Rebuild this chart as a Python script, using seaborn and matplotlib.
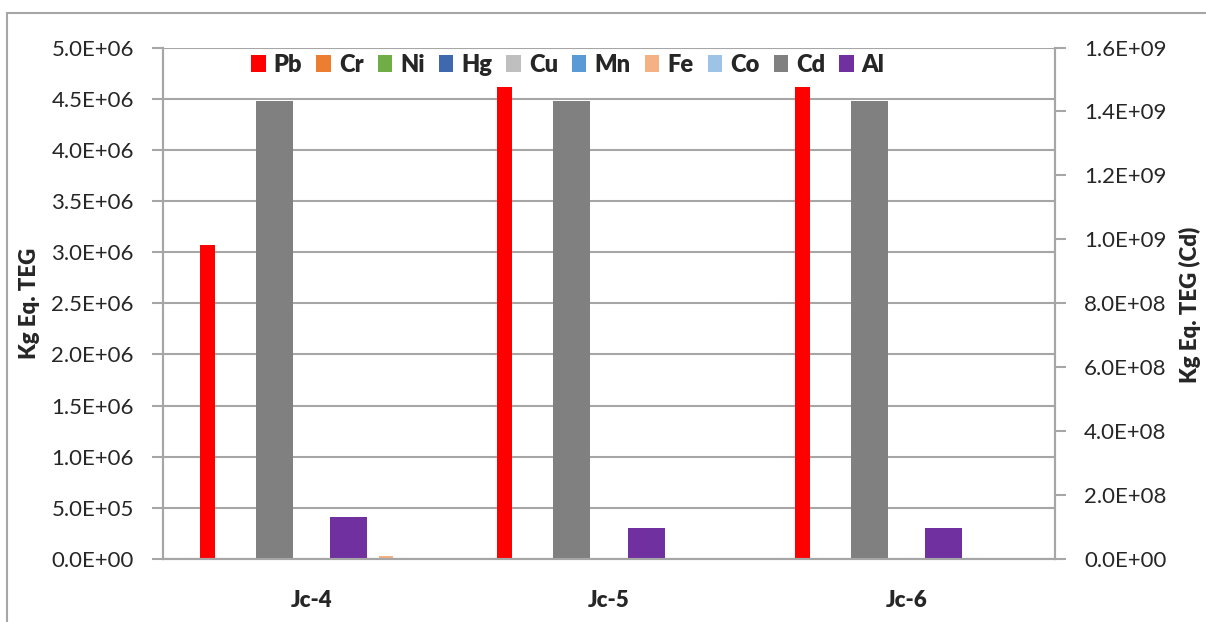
import matplotlib
matplotlib.use("agg")
import matplotlib.pyplot as plt
from matplotlib.patches import Patch
from matplotlib.lines import Line2D
from matplotlib.ticker import FuncFormatter, MultipleLocator
import seaborn as sns
import pandas as pd

# data
samples = ["Jc-4", "Jc-5", "Jc-6"]
primary_metals = ["Pb", "Cr", "Ni", "Hg", "Cu", "Mn", "Fe", "Co"]
secondary_metals = ["Cd", "Al"]

pb = [3.07e6, 4.61e6, 4.61e6]
cr = [2.0e3, 1.0e3, 1.0e3]
ni = [1.0e3, 5.0e2, 5.0e2]
hg = [5.0e2, 2.0e2, 2.0e2]
cu = [1.0e3, 5.0e2, 5.0e2]
mn = [3.0e3, 1.0e3, 1.0e3]
fe = [2.6e4, 2.0e3, 2.0e3]
co = [3.0e3, 2.0e3, 2.0e3]
cd = [1.432e9, 1.432e9, 1.432e9]
al = [1.31e8, 9.8e7, 9.8e7]

colors = {"Pb": "#FF0000", "Cr": "#ED7D31", "Ni": "#70AD47", "Hg": "#3F68AE",
          "Cu": "#BFBFBF", "Mn": "#5B9BD5", "Fe": "#F4B183", "Co": "#9DC3E6",
          "Cd": "#808080", "Al": "#7030A0"}

primary_vals = dict(zip(primary_metals, [pb, cr, ni, hg, cu, mn, fe, co]))
secondary_vals = dict(zip(secondary_metals, [cd, al]))

df1 = pd.DataFrame([(s, m, primary_vals[m][i]) for m in primary_metals
                    for i, s in enumerate(samples)], columns=["Sample", "Metal", "Value"])
df2 = pd.DataFrame([(s, m, secondary_vals[m][i]) for m in secondary_metals
                    for i, s in enumerate(samples)], columns=["Sample", "Metal", "Value"])

sns.set_style("white")
plt.rcParams["font.family"] = ["Lato", "DejaVu Sans"]

GRAY = "#A6A6A6"
fig = plt.figure(figsize=(12.06, 6.22), dpi=100)
ax = fig.add_axes([163 / 1206, 63 / 622, 892 / 1206, 511.5 / 622])

sns.barplot(data=df1, x="Sample", y="Value", hue="Metal", hue_order=primary_metals,
            palette=colors, saturation=1, width=0.8, gap=0.5, errorbar=None,
            legend=False, linewidth=0, ax=ax)
ax2 = ax.twinx()
sns.barplot(data=df2, x="Sample", y="Value", hue="Metal", hue_order=secondary_metals,
            palette=colors, saturation=1, width=0.5, gap=0.5, errorbar=None,
            legend=False, linewidth=0, ax=ax2)

sci = FuncFormatter(lambda v, p: f"{v:.1E}")
ax.set_ylim(0, 5e6)
ax.yaxis.set_major_locator(MultipleLocator(5e5))
ax.yaxis.set_major_formatter(sci)
ax2.set_ylim(0, 1.6e9)
ax2.yaxis.set_major_locator(MultipleLocator(2e8))
ax2.yaxis.set_major_formatter(sci)

ax.set_axisbelow(True)
ax.yaxis.grid(True, color=GRAY, lw=1.5)
ax.set_xlim(-0.5, 2.5)
ax.set_xticks([-0.5, 0.5, 1.5, 2.5])
ax.set_xticklabels([])
ax.set_xticks([0, 1, 2], minor=True)
ax.set_xticklabels(samples, minor=True, fontweight="heavy", fontsize=16)
ax.tick_params(axis="x", which="major", length=8, width=1.5, color=GRAY, direction="out")
ax.tick_params(axis="x", which="minor", length=0, pad=22)
ax.tick_params(axis="y", length=8, width=1.5, color=GRAY, direction="out",
               labelsize=16, pad=13, left=True)
ax2.tick_params(axis="y", length=8, width=1.5, color=GRAY, direction="out",
                labelsize=16, pad=13, right=True)
ax.set_xlabel("")
ax.set_ylabel("")
ax2.set_xlabel("")
ax2.set_ylabel("")

for a in (ax, ax2):
    for name, sp in a.spines.items():
        sp.set_color(GRAY)
        sp.set_linewidth(1.5)
    a.spines["top"].set_visible(False)

fig.text(30 / 1206, 1 - 303 / 622, "Kg Eq. TEG", rotation=90, ha="center",
         va="center", fontsize=16, fontweight="heavy")
fig.text(1190 / 1206, 1 - 305 / 622, "Kg Eq. TEG (Cd)", rotation=90, ha="center",
         va="center", fontsize=16, fontweight="heavy")

handles = [Patch(facecolor=colors[m], edgecolor="none") for m in primary_metals + secondary_metals]
fig.legend(handles, primary_metals + secondary_metals, loc="center",
           bbox_to_anchor=(568 / 1206, 1 - 64.5 / 622), ncol=10, frameon=False,
           handlelength=0.6, handleheight=0.7, handletextpad=0.35, columnspacing=0.6,
           prop={"weight": "heavy", "size": 17})

# outer chart border (only left and top visible)
fig.add_artist(Line2D([7 / 1206, 7 / 1206], [0, 1 - 13 / 622], color=GRAY, lw=1.5))
fig.add_artist(Line2D([7 / 1206, 1], [1 - 13 / 622, 1 - 13 / 622], color=GRAY, lw=1.5))

fig.savefig("out.png", dpi=100)
